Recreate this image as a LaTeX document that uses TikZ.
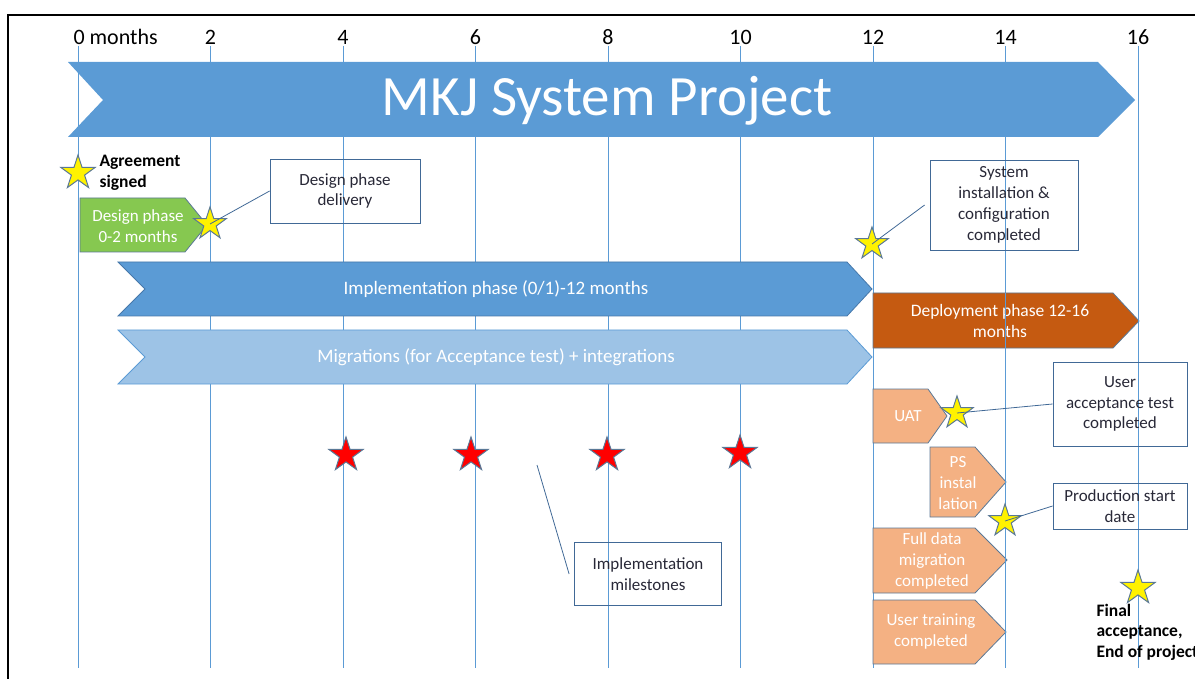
\documentclass[tikz,border=0pt]{standalone}
\usepackage{fontspec}
\setmainfont{Carlito}
\usetikzlibrary{shapes.geometric,calc}

\definecolor{gridblue}{RGB}{91,155,213}
\definecolor{barblue}{RGB}{91,155,213}
\definecolor{bardark}{RGB}{70,120,170}
\definecolor{lightbar}{RGB}{157,195,230}
\definecolor{greenbar}{RGB}{134,200,80}
\definecolor{deploybar}{RGB}{197,90,17}
\definecolor{peachbar}{RGB}{244,177,131}
\definecolor{edgeline}{RGB}{90,120,150}
\definecolor{boxline}{RGB}{65,105,150}
\definecolor{boxtext}{RGB}{40,40,55}

\begin{document}
\begin{tikzpicture}[x=1pt,y=-1pt,
  mstar/.style={star, star points=5, star point ratio=2.6, inner sep=0pt,
    minimum size=36pt, draw=edgeline, line width=1pt},
  ystar/.style={mstar, fill=yellow},
  rstar/.style={mstar, fill=red},
  callout/.style={draw=boxline, line width=0.8pt, align=center, text=boxtext,
    font=\fontsize{17}{20.8}\selectfont},
  bartext/.style={text=white, align=center, font=\fontsize{17}{21}\selectfont},
  longtext/.style={text=white, font=\fontsize{19}{21}\selectfont},
  boldtext/.style={anchor=west, align=left, font=\bfseries\fontsize{17.5}{20.5}\selectfont},
  monthlabel/.style={font=\fontsize{22}{24}\selectfont},
  gridline/.style={gridblue, line width=0.9pt}]
\useasboundingbox (0,0) rectangle (1195,679);
\def\mw{66.25}

% Frame
\draw[line width=1.5pt] (8,679) -- (8,15) -- (1195,15);

% Month grid
\foreach \m in {0,2,...,16}
  \draw[gridline] ({78+\mw*\m},46) -- ({78+\mw*\m},668);
\node[monthlabel, anchor=west] (m0) at (70,37) {0 months};
\foreach \m in {2,4,...,16}
  \node[monthlabel] (m\m) at ({78+\mw*\m},37) {\m};

% Project banner
\fill[barblue] (68,62) -- (1098,62) -- (1135,100) -- (1098,137) -- (68,137) -- (103,100) -- cycle;
\node[text=white, font=\fontsize{57}{57}\selectfont] (title) at (607,101) {MKJ System Project};

% Long phases
\filldraw[fill=barblue, draw=bardark, line width=0.8pt]
  (118,262) -- (847,262) -- (872,289) -- (847,316) -- (118,316) -- (145,289) -- cycle;
\node[longtext] (impl) at (496,289) {Implementation phase (0/1)-12 months};
\filldraw[fill=lightbar, draw=barblue, line width=0.8pt]
  (118,330) -- (847,330) -- (872,357) -- (847,384) -- (118,384) -- (145,357) -- cycle;
\node[longtext] (migr) at (496,357) {Migrations (for Acceptance test) + integrations};

% Design phase
\filldraw[fill=greenbar, draw=edgeline, line width=0.8pt]
  (80,198) -- (185,198) -- (207,225) -- (185,252) -- (80,252) -- cycle;
\node[bartext] (design) at (138,226) {Design phase\\0-2 months};

% Deployment phase and its steps
\filldraw[fill=deploybar, draw=edgeline, line width=0.8pt]
  (873,293) -- (1113,293) -- (1139,321) -- (1113,348) -- (873,348) -- cycle;
\node[bartext, font=\fontsize{17.5}{21}\selectfont] (deploy) at (1000,321) {Deployment phase 12-16\\months};
\filldraw[fill=peachbar, draw=edgeline, line width=0.8pt]
  (873,389) -- (928,389) -- (947,416) -- (928,443) -- (873,443) -- cycle;
\node[bartext] (uat) at (908,416) {UAT};
\filldraw[fill=peachbar, draw=edgeline, line width=0.8pt]
  (930,447) -- (975,447) -- (1006,482) -- (975,517) -- (930,517) -- cycle;
\node[bartext] (ps) at (958,483) {PS\\instal\\lation};
\filldraw[fill=peachbar, draw=edgeline, line width=0.8pt]
  (873,528) -- (975,528) -- (1007,560) -- (975,593) -- (873,593) -- cycle;
\node[bartext] (fulldata) at (932,561) {Full data\\migration\\completed};
\filldraw[fill=peachbar, draw=edgeline, line width=0.8pt]
  (873,600) -- (975,600) -- (1006,632) -- (975,664) -- (873,664) -- cycle;
\node[bartext] (training) at (931,632) {User training\\completed};

% Grid over the deployment area
\foreach \m in {14,16}
  \draw[gridline] ({78+\mw*\m},293) -- ({78+\mw*\m},668);

% Milestone stars
\node[ystar] (sagree) at (78,173) {};
\node[ystar, minimum size=34pt] (sdesign) at (210,224) {};
\node[ystar, minimum size=34pt] (sinstall) at (872,244) {};
\node[ystar, minimum size=34pt] (suat) at (957,413) {};
\node[ystar, minimum size=34pt] (sprod) at (1005,521) {};
\node[ystar] (sfinal) at (1138,588) {};
\node[rstar] (r4) at (346,455) {};
\node[rstar] (r6) at (471,455) {};
\node[rstar] (r8) at (607,455) {};
\node[rstar] (r10) at (740,453) {};

% Bold labels
\node[boldtext] (agree) at (96,173) {Agreement\\signed};
\node[boldtext] (final) at (1093,632) {Final\\acceptance,\\End of project};

% Callout boxes
\node[callout, minimum width=150pt, minimum height=64pt] (bdesign) at (345,191) {Design phase\\delivery};
\node[callout, minimum width=148pt, minimum height=90pt] (binstall) at (1004,205) {System\\installation \&\\configuration\\completed};
\node[callout, minimum width=134pt, minimum height=84pt] (buat) at (1120,404) {User\\acceptance test\\completed};
\node[callout, minimum width=134pt, minimum height=46pt] (bprod) at (1120,506) {Production start\\date};
\node[callout, minimum width=147pt, minimum height=63pt] (bimpl) at (648,574) {Implementation\\milestones};
\coordinate (cimpl) at (537,465);

% Callout lines
\draw[boxline, line width=0.8pt] (sdesign.center) -- (bdesign.west);
\draw[boxline, line width=0.8pt] (sinstall.center) -- ($(binstall.west)+(-5,0)$);
\draw[boxline, line width=0.8pt] (suat.center) -- (buat.west);
\draw[boxline, line width=0.8pt] (sprod.center) -- (bprod.west);
\draw[boxline, line width=0.8pt] (cimpl) -- ($(bimpl.west)+(-5,0)$);
\end{tikzpicture}
\end{document}
